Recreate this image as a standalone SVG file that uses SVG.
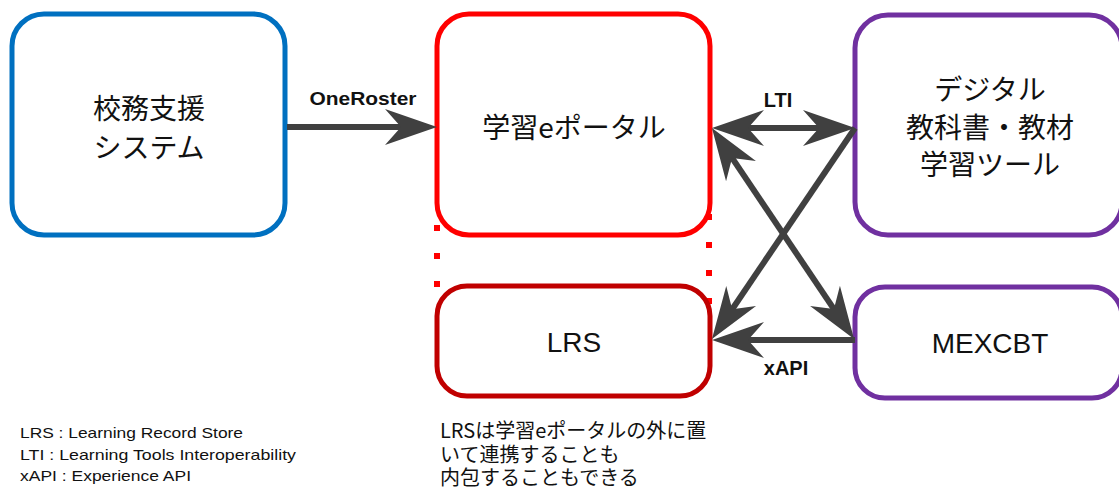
<svg xmlns="http://www.w3.org/2000/svg" width="1119" height="489" viewBox="0 0 1119 489">
  <style>
    .box { fill: #ffffff; stroke-width: 5; }
    .jp { font-family: "Noto Sans CJK JP", "Noto Sans", sans-serif; fill: #111; }
    .lat { font-family: "Liberation Sans", Arial, sans-serif; fill: #111; }
    .lbl { font-family: "Liberation Sans", Arial, sans-serif; font-weight: bold; fill: #111; }
    .conn { stroke: #404040; stroke-width: 6; fill: none; }
    .dots { stroke: #ff0000; stroke-width: 6; stroke-dasharray: 6 22; fill: none; }
  </style>
  <defs>
    <marker id="ah" markerUnits="userSpaceOnUse" viewBox="-54 -20 56 40" markerWidth="56" markerHeight="40" refX="-30" refY="0" orient="auto-start-reverse">
      <path d="M0,0 L-52,-18 L-36,0 L-52,18 Z" fill="#404040"/>
    </marker>
  </defs>

  <g id="node-kohmu">
    <rect class="box" x="12" y="14" width="273" height="221" rx="32" stroke="#0070C0"/>
    <text class="jp" x="149" y="119" font-size="28" text-anchor="middle">校務支援</text>
    <text class="jp" x="149" y="158" font-size="28" text-anchor="middle">システム</text>
  </g>

  <g id="node-portal">
    <rect class="box" x="437" y="14" width="273" height="221" rx="32" stroke="#ff0000"/>
    <text class="jp" x="574" y="138" font-size="28" text-anchor="middle">学習eポータル</text>
  </g>

  <g id="dotted-link">
    <line class="dots" x1="437" y1="225" x2="437" y2="290"/>
    <line class="dots" x1="709" y1="214" x2="709" y2="304"/>
  </g>

  <g id="node-lrs">
    <rect class="box" x="437" y="286" width="273" height="110" rx="30" stroke="#C00000"/>
    <text class="lat" x="574" y="352" font-size="28" text-anchor="middle">LRS</text>
  </g>

  <g id="node-digital">
    <rect class="box" x="855" y="15" width="267" height="220" rx="33" stroke="#7030A0"/>
    <text class="jp" x="990" y="100" font-size="28" text-anchor="middle">デジタル</text>
    <text class="jp" x="990" y="138" font-size="28" text-anchor="middle">教科書・教材</text>
    <text class="jp" x="990" y="175" font-size="28" text-anchor="middle">学習ツール</text>
  </g>

  <g id="node-mexcbt">
    <rect class="box" x="855" y="287" width="267" height="111" rx="30" stroke="#7030A0"/>
    <text class="lat" x="990" y="353" font-size="28" text-anchor="middle">MEXCBT</text>
  </g>

  <g id="connectors">
    <line class="conn" x1="287" y1="127" x2="407" y2="127" marker-end="url(#ah)"/>
    <line class="conn" x1="742" y1="128" x2="825" y2="128" marker-start="url(#ah)" marker-end="url(#ah)"/>
    <line class="conn" x1="728.7" y1="152.9" x2="837.3" y2="314.1" marker-start="url(#ah)" marker-end="url(#ah)"/>
    <line class="conn" x1="855" y1="128" x2="728.8" y2="314.2" marker-end="url(#ah)"/>
    <line class="conn" x1="855" y1="340" x2="742" y2="340" marker-end="url(#ah)"/>
    <text class="lbl" x="363" y="105" font-size="19" text-anchor="middle" textLength="107" lengthAdjust="spacingAndGlyphs">OneRoster</text>
    <text class="lbl" x="778" y="107" font-size="20" text-anchor="middle">LTI</text>
    <text class="lbl" x="786" y="375" font-size="20" text-anchor="middle">xAPI</text>
  </g>

  <g id="legend">
    <text class="lat" x="20" y="438" font-size="15" textLength="223" lengthAdjust="spacingAndGlyphs">LRS : Learning Record Store</text>
    <text class="lat" x="20" y="460" font-size="15" textLength="276" lengthAdjust="spacingAndGlyphs">LTI : Learning Tools Interoperability</text>
    <text class="lat" x="20" y="481" font-size="15" textLength="171" lengthAdjust="spacingAndGlyphs">xAPI : Experience API</text>
  </g>

  <g id="note">
    <text class="jp" x="440" y="438" font-size="20">LRSは学習eポータルの外に置</text>
    <text class="jp" x="440" y="462" font-size="20">いて連携することも</text>
    <text class="jp" x="440" y="485" font-size="20">内包することもできる</text>
  </g>
</svg>
